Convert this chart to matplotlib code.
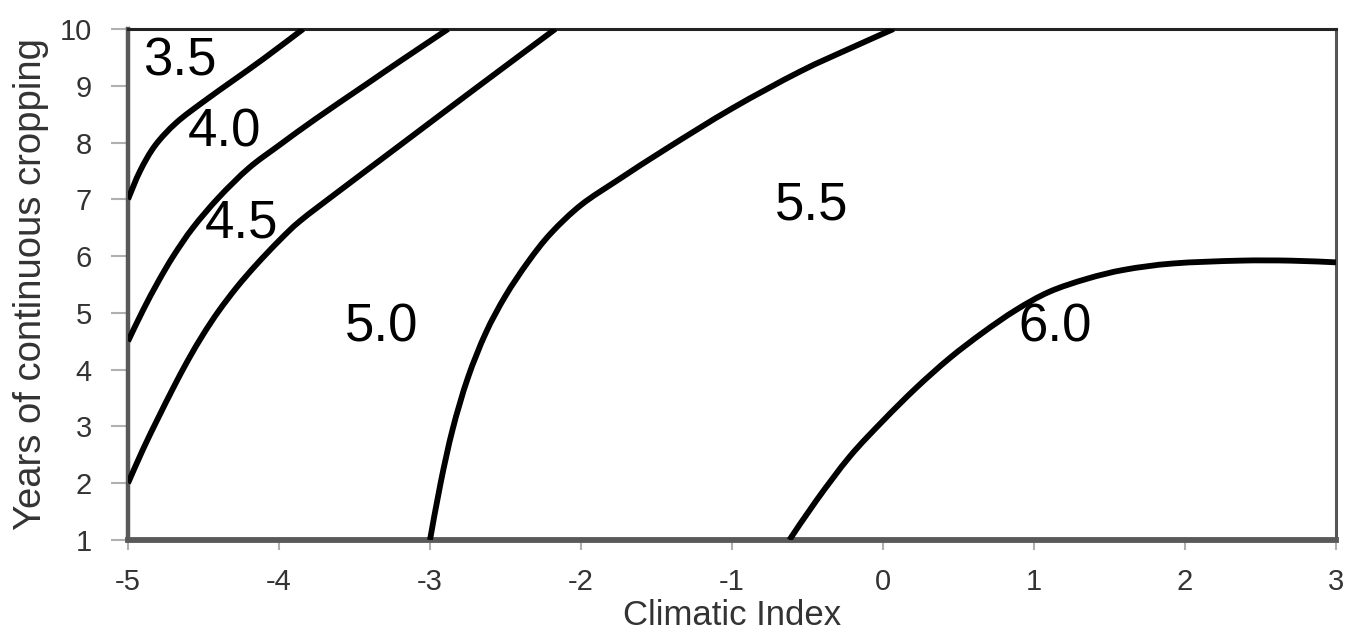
import matplotlib
matplotlib.use("Agg")
import matplotlib.pyplot as plt
from matplotlib.path import Path
from matplotlib.patches import PathPatch

# Contour lines (Climatic Index, Years)
c35_x = [-5.00, -4.92, -4.82, -4.68, -4.50, -4.30, -4.10, -3.84]
c35_y = [7.00, 7.50, 7.95, 8.35, 8.72, 9.10, 9.48, 10.00]

c40_x = [-5.00, -4.90, -4.80, -4.70, -4.57, -4.40, -4.20, -4.00, -3.75, -3.42, -3.20, -2.88]
c40_y = [4.50, 5.05, 5.55, 6.00, 6.50, 7.03, 7.55, 7.95, 8.43, 9.03, 9.43, 10.00]

c45_x = [-5.00, -4.90, -4.80, -4.70, -4.60, -4.50, -4.40, -4.28, -4.15, -4.00, -3.86, -3.60, -3.20, -2.70, -2.17]
c45_y = [2.00, 2.60, 3.15, 3.68, 4.18, 4.63, 5.03, 5.45, 5.85, 6.27, 6.62, 7.15, 7.95, 8.95, 10.00]

c50_x = [-3.00, -2.93, -2.85, -2.75, -2.63, -2.50, -2.35, -2.20, -2.00, -1.75, -1.43, -1.00, -0.55, -0.20, 0.07]
c50_y = [1.00, 2.00, 2.95, 3.85, 4.65, 5.30, 5.90, 6.40, 6.90, 7.35, 7.90, 8.60, 9.25, 9.68, 10.00]

c60_x = [-0.62, -0.44, -0.22, 0.00, 0.22, 0.44, 0.66, 0.88, 1.10, 1.35, 1.60, 1.92, 2.36, 2.70, 3.00]
c60_y = [1.00, 1.70, 2.47, 3.10, 3.68, 4.20, 4.65, 5.05, 5.37, 5.60, 5.76, 5.87, 5.92, 5.92, 5.89]

curves = [(c35_x, c35_y), (c40_x, c40_y), (c45_x, c45_y), (c50_x, c50_y), (c60_x, c60_y)]

label_text = ["3.5", "4.0", "4.5", "5.0", "5.5", "6.0"]
label_x = [-4.66, -4.36, -4.25, -3.32, -0.47, 1.14]
label_y = [9.42, 8.17, 6.58, 4.74, 6.90, 4.74]

x_ticks = [-5, -4, -3, -2, -1, 0, 1, 2, 3]
y_ticks = [1, 2, 3, 4, 5, 6, 7, 8, 9, 10]

plt.rcParams['font.family'] = ['Liberation Sans', 'DejaVu Sans']


def smooth_path(xs, ys):
    """Smoothed line through the read points (Catmull-Rom drawn as cubic Bezier)."""
    pts = list(zip(xs, ys))
    n = len(pts)
    verts = [pts[0]]
    codes = [Path.MOVETO]
    for i in range(n - 1):
        p0 = pts[i - 1] if i > 0 else pts[i]
        p1 = pts[i]
        p2 = pts[i + 1]
        p3 = pts[i + 2] if i + 2 < n else pts[i + 1]
        c1 = (p1[0] + (p2[0] - p0[0]) / 6.0, p1[1] + (p2[1] - p0[1]) / 6.0)
        c2 = (p2[0] - (p3[0] - p1[0]) / 6.0, p2[1] - (p3[1] - p1[1]) / 6.0)
        verts += [c1, c2, p2]
        codes += [Path.CURVE4, Path.CURVE4, Path.CURVE4]
    return Path(verts, codes)


fig = plt.figure(figsize=(13.47, 6.41), dpi=100)
ax = fig.add_axes([128/1347, 101/641, (1336-128)/1347, (540-29)/641])

for xs, ys in curves:
    patch = PathPatch(smooth_path(xs, ys), facecolor='none', edgecolor='black',
                      lw=4.2, capstyle='butt', joinstyle='round', zorder=3)
    ax.add_patch(patch)

for t, x, y in zip(label_text, label_x, label_y):
    ax.text(x, y, t, fontsize=38, ha='center', va='center', color='black', zorder=4)

ax.set_xlim(-5, 3)
ax.set_ylim(1, 10)
ax.set_xticks(x_ticks)
ax.set_yticks(y_ticks)
ax.set_xticklabels([str(v) for v in x_ticks])
ax.set_yticklabels([str(v) for v in y_ticks])

text_color = '#333333'
ax.tick_params(axis='x', direction='out', length=7, width=1.5, color='#b0b0b0',
               labelsize=21, labelcolor=text_color, pad=13)
ax.tick_params(axis='y', direction='out', length=12, width=1.5, color='#b0b0b0',
               labelsize=21, labelcolor=text_color, pad=14)

ax.spines['left'].set_color('#595959')
ax.spines['left'].set_linewidth(3.2)
ax.spines['bottom'].set_color('#595959')
ax.spines['bottom'].set_linewidth(4.2)
ax.spines['top'].set_color('#222222')
ax.spines['top'].set_linewidth(2.2)
ax.spines['right'].set_color('#555555')
ax.spines['right'].set_linewidth(2.2)

ax.set_xlabel('Climatic Index', fontsize=25, color=text_color, labelpad=2)
ax.set_ylabel('Years of continuous cropping', fontsize=27.5, color=text_color, labelpad=8)

fig.savefig('out.png', dpi=100, facecolor='white')
